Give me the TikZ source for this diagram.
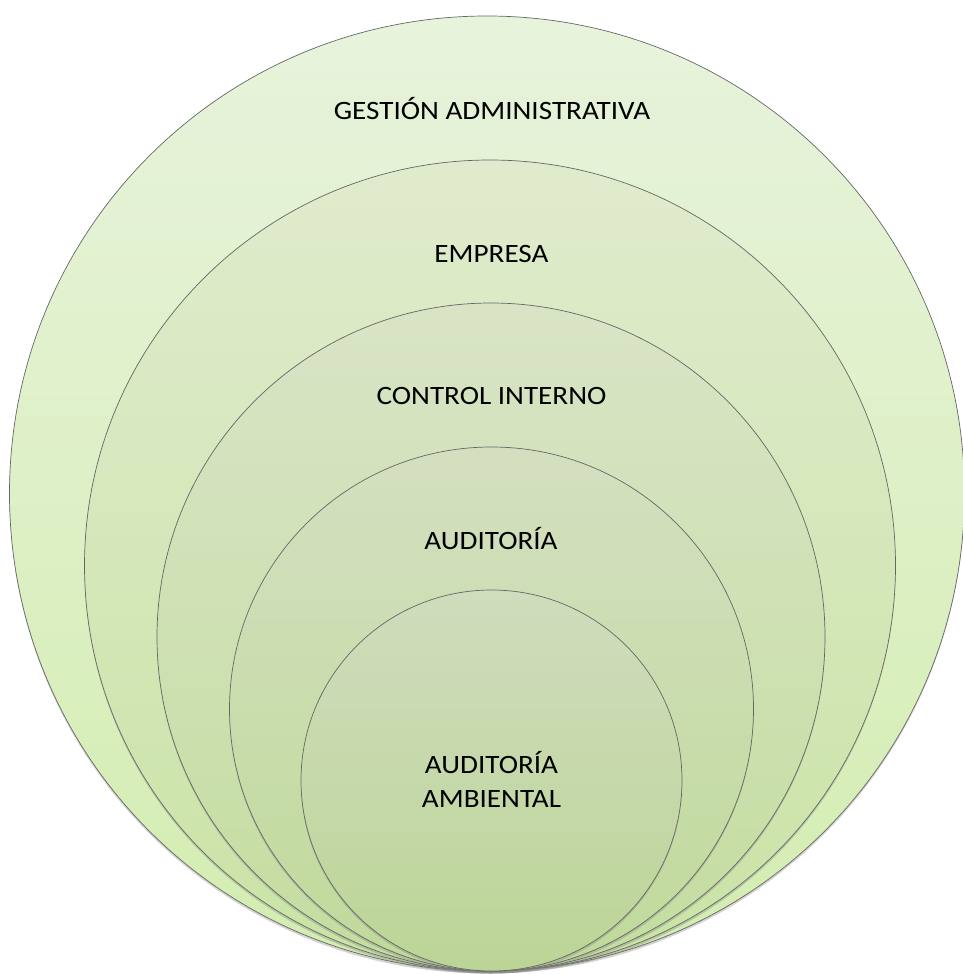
\documentclass[tikz,border=0pt]{standalone}
\usepackage{fontspec}
\setmainfont{Carlito}[FakeStretch=1.1]
\usetikzlibrary{shadows}

\definecolor{ringtopA}{HTML}{E8F3DC}
\definecolor{ringbotA}{HTML}{D3EDB0}
\definecolor{ringtopB}{HTML}{E0EBCD}
\definecolor{ringbotB}{HTML}{C9E3A5}
\definecolor{ringtopC}{HTML}{D9E4C6}
\definecolor{ringbotC}{HTML}{C3DD9F}
\definecolor{ringtopD}{HTML}{D4DFC0}
\definecolor{ringbotD}{HTML}{BFDA9A}
\definecolor{ringtopE}{HTML}{D0DCBD}
\definecolor{ringbotE}{HTML}{BBD596}

\tikzset{
ring/.style={circle, inner sep=0pt, draw=black!60, line width=0.7pt,
  drop shadow={shadow xshift=0pt, shadow yshift=-2.5pt, opacity=0.35}},
ringlabel/.style={inner sep=0pt, font=\fontsize{26.5}{34}\selectfont, align=center}
}

\begin{document}
\begin{tikzpicture}[x=1pt,y=-1pt]
\useasboundingbox (0,0) rectangle (962,974);
\node[ring, minimum size=955pt, top color=ringtopA, bottom color=ringbotA] (gestion) at (487,493.5) {};
\node[ring, minimum size=811pt, top color=ringtopB, bottom color=ringbotB] (empresa) at (490,565.5) {};
\node[ring, minimum size=668pt, top color=ringtopC, bottom color=ringbotC] (control) at (491,637) {};
\node[ring, minimum size=524pt, top color=ringtopD, bottom color=ringbotD] (auditoria) at (491.5,709) {};
\node[ring, minimum size=381pt, top color=ringtopE, bottom color=ringbotE] (ambiental) at (491.5,780.5) {};
\node[ringlabel, anchor=base] (gestiontext) at (492,119) {GESTIÓN ADMINISTRATIVA};
\node[ringlabel, anchor=base] (empresatext) at (491.5,262) {EMPRESA};
\node[ringlabel, anchor=base] (controltext) at (491.5,404) {CONTROL INTERNO};
\node[ringlabel, anchor=base] (auditoriatext) at (491,549) {AUDITORÍA};
\node[ringlabel, anchor=south] (ambientaltext) at (491.5,808) {AUDITORÍA\\AMBIENTAL};
\end{tikzpicture}
\end{document}
